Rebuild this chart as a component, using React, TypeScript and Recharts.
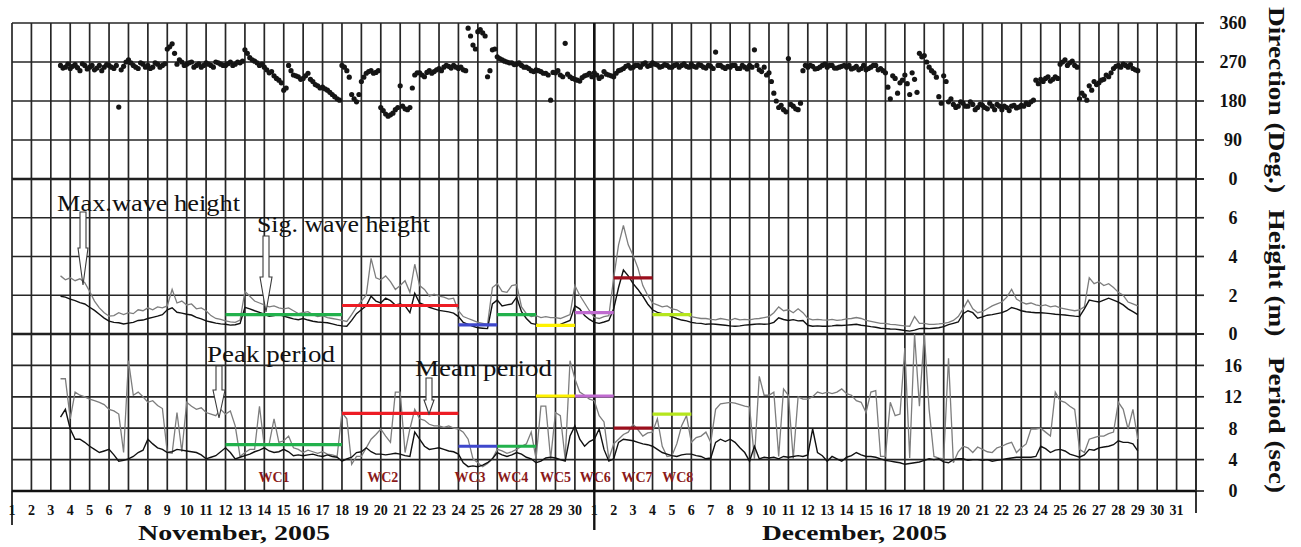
import React from "react";
import {
  ComposedChart,
  Line,
  Scatter,
  XAxis,
  YAxis,
  CartesianGrid,
  ReferenceLine,
  ReferenceDot,
} from "recharts";

const W = 1301;
const H = 547;
const SERIF = "'Liberation Serif', 'Times New Roman', serif";
const GRID = "#262626";

// samples every 6 h, starting Nov 3 12:00 (day 1 = Nov 1, day 31 = Dec 1)
const T0 = 3.5;
const STEP = 0.25;

// wave direction (deg), on the 6-hourly grid
const direction = [
  262, 258,
  255, 264, 250, 262,
  258, 252, 262, 258,
  262, 255, 166, 260,
  275, 262, 255, 265,
  262, 258, 265, 262,
  300, 312, 265, 270,
  265, 270, 262, 258,
  268, 262, 270, 265,
  262, 270, 265, 268,
  298, 280, 272, 262,
  258, 245, 238, 228,
  205, 262, 240, 236,
  232, 244, 225, 215,
  212, 205, 195, 185,
  262, 250, 195, 178,
  225, 244, 250, 246,
  165, 150, 148, 160,
  215, 162, 165, 240,
  245, 236, 250, 248,
  255, 258, 260, 262,
  255, 252, 348, 309,
  340, 337, 236, 298,
  282, 275, 270, 268,
  265, 262, 258, 250,
  252, 248, 244, 182,
  245, 240, 313, 236,
  230, 226, 238, 244,
  245, 232, 248, 240, // Dec 1
  236, 250, 255, 262,
  258, 262, 265, 260,
  268, 263, 260, 262,
  258, 264, 262, 260,
  265, 258, 262, 256,
  260, 293, 262, 255,
  258, 262, 255, 258,
  262, 298, 252, 258,
  245, 198, 165, 160,
  278, 168, 160, 250,
  258, 260, 255, 262,
  258, 262, 256, 260,
  258, 254, 260, 255,
  252, 258, 262, 255,
  245, 185, 232, 222,
  240, 195, 230, 290,
  285, 258, 245, 190,
  238, 178, 172, 168,
  175, 168, 172, 165,
  170, 162, 168, 172,
  160, 165, 168, 164,
  170, 175, 178, 228,
  230, 232, 226, 236,
  265, 275, 268, 262,
  185, 192, 215, 225,
  222, 230, 236, 255,
  262, 265, 258, 255,
  250,
];

// wave direction (deg), readings 3 h after each grid point
const directionMid = [
  256, 265,
  260, 257, 266, 254,
  262, 256, 250, 264,
  258, 262, 252, 270,
  268, 258, 268, 258,
  255, 268, 258, 266,
  305, 290, 275, 262,
  268, 258, 266, 262,
  265, 258, 268, 262,
  266, 262, 270, 272,
  290, 275, 268, 265,
  252, 248, 232, 222,
  210, 250, 238, 230,
  238, 230, 218, 210,
  208, 200, 190, 182,
  258, 235, 185, 195,
  235, 248, 244, 250,
  158, 145, 152, 165,
  168, 160, 210, 245,
  240, 246, 244, 252,
  250, 262, 256, 258,
  258, 250, 330, 300,
  345, 330, 250, 300,
  278, 272, 268, 264,
  268, 258, 255, 248,
  250, 244, 240, 246,
  250, 236, 242, 232,
  228, 234, 240, 236,
  240, 236, 242, 238, // Dec 1
  244, 252, 260, 256,
  262, 258, 268, 262,
  265, 258, 264, 258,
  262, 258, 266, 258,
  260, 264, 258, 262,
  255, 262, 258, 260,
  262, 255, 262, 254,
  258, 262, 248, 240,
  225, 180, 170, 155,
  172, 162, 175, 262,
  262, 254, 258, 265,
  262, 256, 258, 262,
  262, 256, 252, 262,
  255, 262, 252, 250,
  212, 238, 198, 228,
  220, 245, 200, 282,
  270, 250, 235, 175,
  225, 185, 165, 178,
  168, 178, 160, 172,
  165, 175, 160, 168,
  168, 158, 170, 166,
  168, 172, 182, 220,
  225, 236, 230, 232,
  270, 262, 272, 258,
  198, 182, 205, 218,
  228, 240, 245, 260,
  258, 262, 264, 252,
];

// significant wave height (m)
const hsig = [
  1.95, 1.9,
  1.8, 1.72, 1.62, 1.55,
  1.38, 1.22, 1.02, 0.82,
  0.66, 0.6, 0.58, 0.52,
  0.56, 0.6, 0.7, 0.72,
  0.8, 0.86, 0.92, 1.0,
  1.25, 1.35, 1.12, 1.08,
  1.02, 0.98, 0.86, 0.78,
  0.68, 0.62, 0.56, 0.52,
  0.5, 0.46, 0.48, 0.55,
  1.38, 1.3, 1.2, 1.12,
  1.02, 0.92, 0.95, 1.0,
  0.92, 0.85, 0.78, 0.74,
  0.8, 0.72, 0.66, 0.62,
  0.6, 0.58, 0.52, 0.46,
  0.42, 0.4, 0.7, 1.05,
  1.25, 1.45, 1.95, 1.7,
  1.6, 1.85, 1.72, 1.5,
  1.55, 1.45, 1.1, 2.1,
  1.6, 1.5, 1.38, 1.3,
  1.22, 1.18, 1.14, 1.08,
  0.9, 0.6, 0.5, 0.4,
  0.32, 0.3, 0.28, 1.55,
  1.75, 1.45, 1.5, 1.55,
  1.9, 1.15, 0.8, 0.55,
  0.5, 0.46, 0.45, 0.44,
  0.45, 0.5, 0.6, 0.7,
  1.45, 1.3, 0.95, 0.75,
  0.6, 0.55, 0.62, 0.7, // Dec 1
  1.3, 2.4, 3.3, 3.0,
  2.6, 2.3, 1.95, 1.55,
  1.25, 1.12, 1.05, 1.0,
  0.9, 0.8, 0.72, 0.68,
  0.6, 0.56, 0.55, 0.5,
  0.52, 0.5, 0.48, 0.45,
  0.42, 0.4, 0.42, 0.46,
  0.48, 0.5, 0.52, 0.5,
  0.52, 0.6, 0.84, 0.75,
  0.7, 0.74, 0.68, 0.7,
  0.45, 0.4, 0.42, 0.4,
  0.4, 0.42, 0.45, 0.44,
  0.46, 0.48, 0.5, 0.45,
  0.42, 0.38, 0.35, 0.3,
  0.28, 0.26, 0.25, 0.22,
  0.18, 0.15, 0.2, 0.28,
  0.3, 0.28, 0.3, 0.32,
  0.38, 0.48, 0.55, 0.62,
  1.05, 1.2, 1.1, 0.82,
  0.88, 0.97, 1.0, 1.05,
  1.1, 1.2, 1.37, 1.3,
  1.2, 1.15, 1.12, 1.1,
  1.1, 1.08, 1.05, 1.02,
  1.0, 0.98, 0.95, 0.92,
  0.9, 1.3, 1.75, 1.7,
  1.65, 1.75, 1.85, 1.75,
  1.65, 1.5, 1.3, 1.15,
  1.0,
];

// max wave height (m)
const hmax = [
  3.0, 2.8,
  2.9, 2.75, 2.85, 2.65,
  2.2, 1.7, 1.35, 1.1,
  0.92, 0.95, 1.1, 1.0,
  1.1, 1.05, 1.25, 1.2,
  1.35, 1.25, 1.4, 1.35,
  1.45, 2.3, 1.6, 1.7,
  1.5, 1.55, 1.3, 1.35,
  1.2, 0.95, 0.8, 0.75,
  0.68, 0.63, 0.6, 0.72,
  2.2, 1.95, 1.7, 1.6,
  1.5, 1.4, 1.45, 1.35,
  1.3, 1.35, 1.2, 1.05,
  1.1, 1.15, 1.0, 0.9,
  0.95, 0.85, 0.8, 0.75,
  0.7, 0.65, 1.0, 1.4,
  1.7, 2.0, 3.9, 2.9,
  2.8, 3.0, 2.7, 2.3,
  2.5, 2.75, 2.15, 3.6,
  2.5, 2.3, 1.95, 2.05,
  1.95, 1.9, 1.8, 1.85,
  1.2, 0.9, 0.8, 0.7,
  0.6, 0.55, 0.5, 2.4,
  2.6, 2.2, 2.15, 2.5,
  2.55, 1.4, 1.05, 0.9,
  0.95, 0.85, 0.9, 0.85,
  0.85, 0.8, 0.9, 1.0,
  2.5, 2.0, 1.6, 1.2,
  0.85, 0.8, 0.9, 0.95, // Dec 1
  2.9, 4.6, 5.6, 4.6,
  4.05, 3.4, 2.5, 2.0,
  1.6, 1.5, 1.4, 1.45,
  1.3, 1.25, 1.1, 1.0,
  0.9, 0.85, 0.8, 0.8,
  0.75, 0.73, 0.8, 0.75,
  0.7, 0.8, 0.73, 0.75,
  0.73, 0.78, 0.8, 0.85,
  0.9, 1.1, 1.4, 1.2,
  1.25, 1.1, 1.3, 1.1,
  0.8, 0.73, 0.75, 0.73,
  0.72, 0.75, 0.7, 0.73,
  0.78, 0.8, 0.85, 0.8,
  0.7, 0.65, 0.6, 0.55,
  0.55, 0.5, 0.48, 0.45,
  0.42, 0.4, 0.9, 0.55,
  0.55, 0.5, 0.5, 0.52,
  0.55, 0.6, 0.7, 0.9,
  1.3, 1.75, 1.3, 1.1,
  1.15, 1.3, 1.45, 1.55,
  1.65, 1.9, 2.3, 1.8,
  1.65, 1.55, 1.6, 1.5,
  1.45, 1.5, 1.4, 1.45,
  1.35, 1.3, 1.25, 1.2,
  1.25, 1.4, 2.9, 2.6,
  2.7, 2.5, 2.6, 2.4,
  2.15, 2.0, 1.65, 1.55,
  1.45,
];

// peak period (s)
const tpeak = [
  14.3, 14.3,
  9.2, 12.6, 12.2, 12.0,
  11.7, 11.5, 11.3, 11.0,
  10.4, 10.2, 9.8, 4.9,
  16.6, 12.2, 12.6, 12.0,
  11.3, 11.5, 10.9, 10.5,
  4.9, 4.8, 10.0, 5.0,
  11.3, 10.8, 10.4, 10.6,
  10.0, 9.8, 9.6, 10.4,
  9.8, 10.2, 8.3, 4.4,
  4.9, 5.3, 5.3, 10.8,
  5.7, 6.0, 9.2, 6.2,
  6.4, 7.0, 5.5, 5.3,
  4.9, 5.2, 5.0, 4.8,
  5.0, 4.7, 4.6, 4.4,
  10.0, 9.2, 3.4, 4.4,
  4.4, 5.5, 6.6, 7.2,
  7.9, 7.0, 6.2, 12.6,
  12.6, 4.9, 7.9, 10.4,
  9.2, 9.0, 8.5, 8.3,
  8.3, 8.1, 8.3, 8.0,
  7.9, 7.5, 6.6, 4.1,
  3.6, 3.1, 3.5, 4.1,
  5.3, 5.1, 4.8, 5.0,
  5.3, 5.7, 6.0, 7.5,
  4.1, 10.8, 10.8, 4.1,
  10.0, 9.6, 4.1, 16.6,
  14.3, 12.6, 12.2, 11.7,
  11.5, 9.6, 8.8, 4.1, // Dec 1
  6.0, 6.6, 7.2, 7.5,
  8.5, 7.8, 7.0, 7.4,
  7.5, 9.2, 5.7, 4.4,
  4.5, 6.0, 8.3, 9.6,
  6.2, 6.8, 7.0, 7.5,
  6.2, 10.4, 11.1, 11.2,
  11.3, 11.2, 11.0, 10.8,
  10.7, 4.1, 14.6, 12.2,
  12.2, 12.6, 4.4, 13.0,
  12.2, 4.1, 12.0, 11.7,
  11.7, 12.0, 12.6, 12.4,
  12.6, 12.4, 12.6, 13.0,
  12.4, 12.2, 11.5, 11.3,
  10.0, 12.6, 12.8, 4.4,
  4.4, 11.3, 9.6, 9.8,
  18.2, 4.2, 20.0, 10.8,
  20.0, 10.4, 4.4, 4.2,
  4.1, 16.9, 3.6, 5.0,
  5.7, 5.5, 4.9, 5.6,
  5.3, 5.0, 4.9, 5.5,
  5.7, 6.0, 6.2, 4.9,
  5.5, 6.0, 7.9, 7.9,
  8.0, 7.5, 7.0, 12.6,
  11.5, 11.3, 10.8, 10.4,
  5.3, 4.9, 6.6, 6.8,
  7.0, 7.0, 7.3, 7.5,
  11.3, 10.4, 7.9, 10.4,
  6.6,
];

// mean period (s)
const tmean = [
  9.4, 10.4,
  7.9, 6.6, 6.6, 6.2,
  5.7, 5.3, 4.9, 5.1,
  5.3, 4.6, 3.8, 3.9,
  4.1, 4.4, 4.9, 5.2,
  6.6, 6.0, 5.5, 5.3,
  4.9, 5.0, 5.3, 5.2,
  5.1, 5.0, 4.9, 4.6,
  4.1, 4.3, 4.5, 5.0,
  5.5, 4.9, 4.1, 4.3,
  4.5, 4.7, 5.0, 5.2,
  5.5, 5.1, 4.9, 5.0,
  5.3, 5.0, 4.5, 4.6,
  4.5, 4.6, 4.7, 4.5,
  4.4, 4.6, 4.4, 4.3,
  3.8, 4.1, 4.3, 4.9,
  5.0, 5.5, 5.0, 4.7,
  4.7, 4.6, 4.7, 4.8,
  4.7, 4.5, 4.4, 7.5,
  6.6, 5.7, 5.3, 5.4,
  5.5, 5.3, 5.1, 5.0,
  4.7, 3.6, 3.1, 3.2,
  3.1, 3.3, 3.6, 4.1,
  4.9, 4.6, 4.4, 4.6,
  4.9, 4.7, 4.3, 4.1,
  3.6, 3.8, 4.2, 4.3,
  4.2, 4.0, 3.8, 7.0,
  8.3, 6.6, 5.7, 6.3,
  6.6, 7.9, 5.3, 3.8, // Dec 1
  4.1, 6.2, 6.6, 6.5,
  6.4, 6.2, 6.0, 5.9,
  5.7, 5.3, 4.9, 4.7,
  4.5, 4.4, 4.6, 4.7,
  4.7, 4.5, 4.4, 4.1,
  4.2, 6.2, 6.6, 6.3,
  6.6, 6.2, 5.5, 4.9,
  3.8, 5.7, 4.1, 4.3,
  4.2, 4.3, 4.1, 4.4,
  4.3, 4.4, 4.5, 4.4,
  4.6, 7.9, 4.9, 4.5,
  3.8, 4.4, 4.1, 3.8,
  4.3, 4.5, 4.9, 4.6,
  4.4, 4.4, 4.3, 4.1,
  3.9, 3.8, 3.7, 3.6,
  3.4, 3.5, 3.6, 3.7,
  3.9, 4.1, 4.0, 4.1,
  3.7, 3.6, 4.0, 4.1,
  4.1, 3.9, 4.0, 4.0,
  3.9, 4.0, 3.8, 3.9,
  4.0, 4.1, 4.2, 4.3,
  4.3, 4.3, 4.3, 4.4,
  5.7, 5.4, 4.9, 5.2,
  5.3, 5.1, 4.7, 4.5,
  4.3, 4.6, 5.3, 5.2,
  5.5, 5.6, 5.7, 5.9,
  6.4, 6.2, 6.2, 6.0,
  5.1,
];

// wave climate windows
const wcNames = ["WC1", "WC2", "WC3", "WC4", "WC5", "WC6", "WC7", "WC8"];
const wcStart = [12, 18, 24, 26, 28, 30, 32, 34];
const wcEnd = [18, 24, 26, 28, 30, 32, 34, 36];
const wcHeight = [1.0, 1.47, 0.47, 1.0, 0.45, 1.1, 2.9, 1.0];
const wcPeriod = [5.9, 9.9, 5.7, 5.7, 12.1, 12.1, 8.0, 9.8];
const wcLabelDay = [14.5, 20.1, 24.6, 26.8, 29.0, 31.05, 33.2, 35.3];
const wcColors = ["#22b14c", "#ed1c24", "#3f48cc", "#22b14c", "#fff200", "#c06bd0", "#9b0f1d", "#b5e61d"];

const dayTicks = Array.from({ length: 62 }, (_, i) => i + 1);
const dirTicks = [0, 90, 180, 270, 360];
const heightTicks = [0, 2, 4, 6, 8];
const periodTicks = [0, 4, 8, 12, 16, 20];
const xDomain: [number, number] = [1, 62];

const dirRows = direction.map((d, i) => ({ x: T0 + i * STEP, dir: d }));
const dirMidRows = directionMid.map((d, i) => ({ x: T0 + STEP / 2 + i * STEP, dir: d }));
const heightRows = hsig.map((h, i) => ({ x: T0 + i * STEP, hs: h, hmax: hmax[i] }));
const periodRows = tmean.map((t, i) => ({ x: T0 + i * STEP, tm: t, tp: tpeak[i] }));

const axisLine = { stroke: GRID, strokeWidth: 1.7 };

const EmptyTick = () => <g />;

function makeRightTick(skip?: number) {
  return (p: any) => {
    const v = p.payload?.value;
    if (v === skip) return <g />;
    return (
      <text x={p.x + 25} y={p.y} dy="0.36em" textAnchor="middle" fontFamily={SERIF} fontWeight="bold" fontSize={18} fill="#111">
        {v}
      </text>
    );
  };
}

function DayTick(p: any) {
  const v = p.payload?.value;
  const label = v <= 30 ? String(v) : v <= 61 ? String(v - 30) : "";
  const ext = v === 1 ? 34 : v === 31 ? 39 : v === 62 ? 22 : 0;
  return (
    <g>
      {ext > 0 && (
        <line x1={p.x} x2={p.x} y1={p.y} y2={p.y + ext} stroke="#111" strokeWidth={v === 31 ? 2.4 : 1.7} />
      )}
      {label && (
        <text x={p.x} y={p.y + 24} textAnchor="middle" fontFamily={SERIF} fontWeight="bold" fontSize={14} fill="#111">
          {label}
        </text>
      )}
    </g>
  );
}

const DirDot = (p: any) => <circle cx={p.cx} cy={p.cy} r={2.6} fill="#151515" />;

function HollowArrow({ cx, top, neck, tip, shaft, head }: any) {
  const pts = [
    [cx - shaft, top], [cx + shaft, top], [cx + shaft, neck], [cx + head, neck],
    [cx, tip], [cx - head, neck], [cx - shaft, neck],
  ].map((q) => q.join(",")).join(" ");
  return <polygon points={pts} fill="#fff" stroke="#3a3a3a" strokeWidth={1.1} />;
}

const arrows = [
  { cx: 83, top: 212, neck: 248, tip: 285, shaft: 3, head: 5 },
  { cx: 266, top: 236, neck: 277, tip: 312, shaft: 3, head: 6 },
  { cx: 219, top: 366, neck: 390, tip: 418, shaft: 3, head: 6 },
  { cx: 429, top: 378, neck: 400, tip: 414, shaft: 3, head: 5 },
];

const notes = [
  { text: "Max.wave height", x: 57, y: 211, len: 183 },
  { text: "Sig. wave height", x: 257, y: 232, len: 173 },
  { text: "Peak period", x: 207, y: 362, len: 128 },
  { text: "Mean period", x: 415, y: 376, len: 137 },
];

const titles = [
  { text: "Direction (Deg.)", cy: 100, len: 186 },
  { text: "Height (m)", cy: 273, len: 127 },
  { text: "Period (sec)", cy: 425, len: 136 },
];

const layer: React.CSSProperties = { position: "absolute", left: 0, top: 0 };

export default function App() {
  return (
    <div style={{ position: "absolute", left: 0, top: 0, width: W, height: H, background: "#fff" }}>
      {/* direction */}
      <div style={layer}>
        <ComposedChart width={W} height={H} data={dirRows} margin={{ top: 23, right: 0, bottom: H - 179, left: 12 }}>
          <CartesianGrid stroke={GRID} strokeWidth={1.7} />
          <XAxis type="number" dataKey="x" domain={xDomain} ticks={dayTicks} interval={0} hide height={0} allowDataOverflow />
          <YAxis type="number" domain={[0, 360]} ticks={dirTicks} interval={0} width={0} tickSize={6} tick={EmptyTick} axisLine={axisLine} tickLine={axisLine} allowDataOverflow />
          <YAxis yAxisId="r" orientation="right" type="number" domain={[0, 360]} ticks={dirTicks} interval={0} width={105} tickSize={8} tickMargin={4} tick={makeRightTick()} axisLine={axisLine} tickLine={axisLine} allowDataOverflow />
          <ReferenceLine x={31} stroke="#111" strokeWidth={2.6} />
          <ReferenceLine y={0} stroke="#111" strokeWidth={2.6} />
          <Scatter data={dirRows} dataKey="dir" shape={DirDot} isAnimationActive={false} />
          <Scatter data={dirMidRows} dataKey="dir" shape={DirDot} isAnimationActive={false} />
        </ComposedChart>
      </div>

      {/* wave heights */}
      <div style={layer}>
        <ComposedChart width={W} height={H} data={heightRows} margin={{ top: 179, right: 0, bottom: H - 334, left: 12 }}>
          <CartesianGrid stroke={GRID} strokeWidth={1.7} />
          <XAxis type="number" dataKey="x" domain={xDomain} ticks={dayTicks} interval={0} hide height={0} allowDataOverflow />
          <YAxis type="number" domain={[0, 8]} ticks={heightTicks} interval={0} width={0} tickSize={6} tick={EmptyTick} axisLine={axisLine} tickLine={axisLine} allowDataOverflow />
          <YAxis yAxisId="r" orientation="right" type="number" domain={[0, 8]} ticks={heightTicks} interval={0} width={105} tickSize={8} tickMargin={4} tick={makeRightTick(8)} axisLine={axisLine} tickLine={axisLine} allowDataOverflow />
          <ReferenceLine x={31} stroke="#111" strokeWidth={2.6} />
          <ReferenceLine y={0} stroke="#111" strokeWidth={2.6} />
          <Line type="linear" dataKey="hmax" stroke="#7d7d7d" strokeWidth={1.3} dot={false} activeDot={false} isAnimationActive={false} />
          <Line type="linear" dataKey="hs" stroke="#111" strokeWidth={1.4} dot={false} activeDot={false} isAnimationActive={false} />
          {wcNames.map((n, i) => (
            <ReferenceLine
              key={n}
              segment={[{ x: wcStart[i], y: wcHeight[i] }, { x: wcEnd[i], y: wcHeight[i] }]}
              stroke={wcColors[i]}
              strokeWidth={3.2}
            />
          ))}
        </ComposedChart>
      </div>

      {/* wave periods */}
      <div style={layer}>
        <ComposedChart width={W} height={H} data={periodRows} margin={{ top: 334, right: 0, bottom: 0, left: 12 }}>
          <CartesianGrid stroke={GRID} strokeWidth={1.7} />
          <XAxis type="number" dataKey="x" domain={xDomain} ticks={dayTicks} interval={0} height={56} tickSize={0} tickMargin={0} axisLine={false} tickLine={false} tick={DayTick} allowDataOverflow />
          <YAxis type="number" domain={[0, 20]} ticks={periodTicks} interval={0} width={0} tickSize={6} tick={EmptyTick} axisLine={axisLine} tickLine={axisLine} allowDataOverflow />
          <YAxis yAxisId="r" orientation="right" type="number" domain={[0, 20]} ticks={periodTicks} interval={0} width={105} tickSize={8} tickMargin={4} tick={makeRightTick(20)} axisLine={axisLine} tickLine={axisLine} allowDataOverflow />
          <ReferenceLine x={31} stroke="#111" strokeWidth={2.6} />
          <ReferenceLine y={0} stroke="#111" strokeWidth={2.6} />
          <Line type="linear" dataKey="tp" stroke="#7d7d7d" strokeWidth={1.3} dot={false} activeDot={false} isAnimationActive={false} />
          <Line type="linear" dataKey="tm" stroke="#111" strokeWidth={1.4} dot={false} activeDot={false} isAnimationActive={false} />
          {wcNames.map((n, i) => (
            <ReferenceLine
              key={n}
              segment={[{ x: wcStart[i], y: wcPeriod[i] }, { x: wcEnd[i], y: wcPeriod[i] }]}
              stroke={wcColors[i]}
              strokeWidth={3.2}
            />
          ))}
          {wcNames.map((n, i) => (
            <ReferenceDot
              key={"lbl" + n}
              x={wcLabelDay[i]}
              y={1.8}
              r={0}
              shape={(p: any) => (
                <text x={p.cx} y={p.cy} dy="0.35em" textAnchor="middle" fontFamily={SERIF} fontWeight="bold" fontSize={14} fill="#8b1a1a">
                  {n}
                </text>
              )}
            />
          ))}
        </ComposedChart>
      </div>

      <svg width={W} height={H} style={{ ...layer, pointerEvents: "none" }}>
        {titles.map((t) => (
          <text
            key={t.text}
            transform={`translate(1277, ${t.cy}) rotate(90)`}
            textAnchor="middle"
            dominantBaseline="central"
            fontFamily={SERIF}
            fontWeight="bold"
            fontSize={24}
            textLength={t.len}
            lengthAdjust="spacingAndGlyphs"
            fill="#111"
          >
            {t.text}
          </text>
        ))}
        {notes.map((n) => (
          <text key={n.text} x={n.x} y={n.y} fontFamily={SERIF} fontSize={23} textLength={n.len} lengthAdjust="spacingAndGlyphs" fill="#111">
            {n.text}
          </text>
        ))}
        {arrows.map((a, i) => (
          <HollowArrow key={i} {...a} />
        ))}
        <text x={138} y={540} fontFamily={SERIF} fontWeight="bold" fontSize={22} textLength={192} lengthAdjust="spacingAndGlyphs" fill="#111">
          November, 2005
        </text>
        <text x={762} y={540} fontFamily={SERIF} fontWeight="bold" fontSize={22} textLength={185} lengthAdjust="spacingAndGlyphs" fill="#111">
          December, 2005
        </text>
      </svg>
    </div>
  );
}
